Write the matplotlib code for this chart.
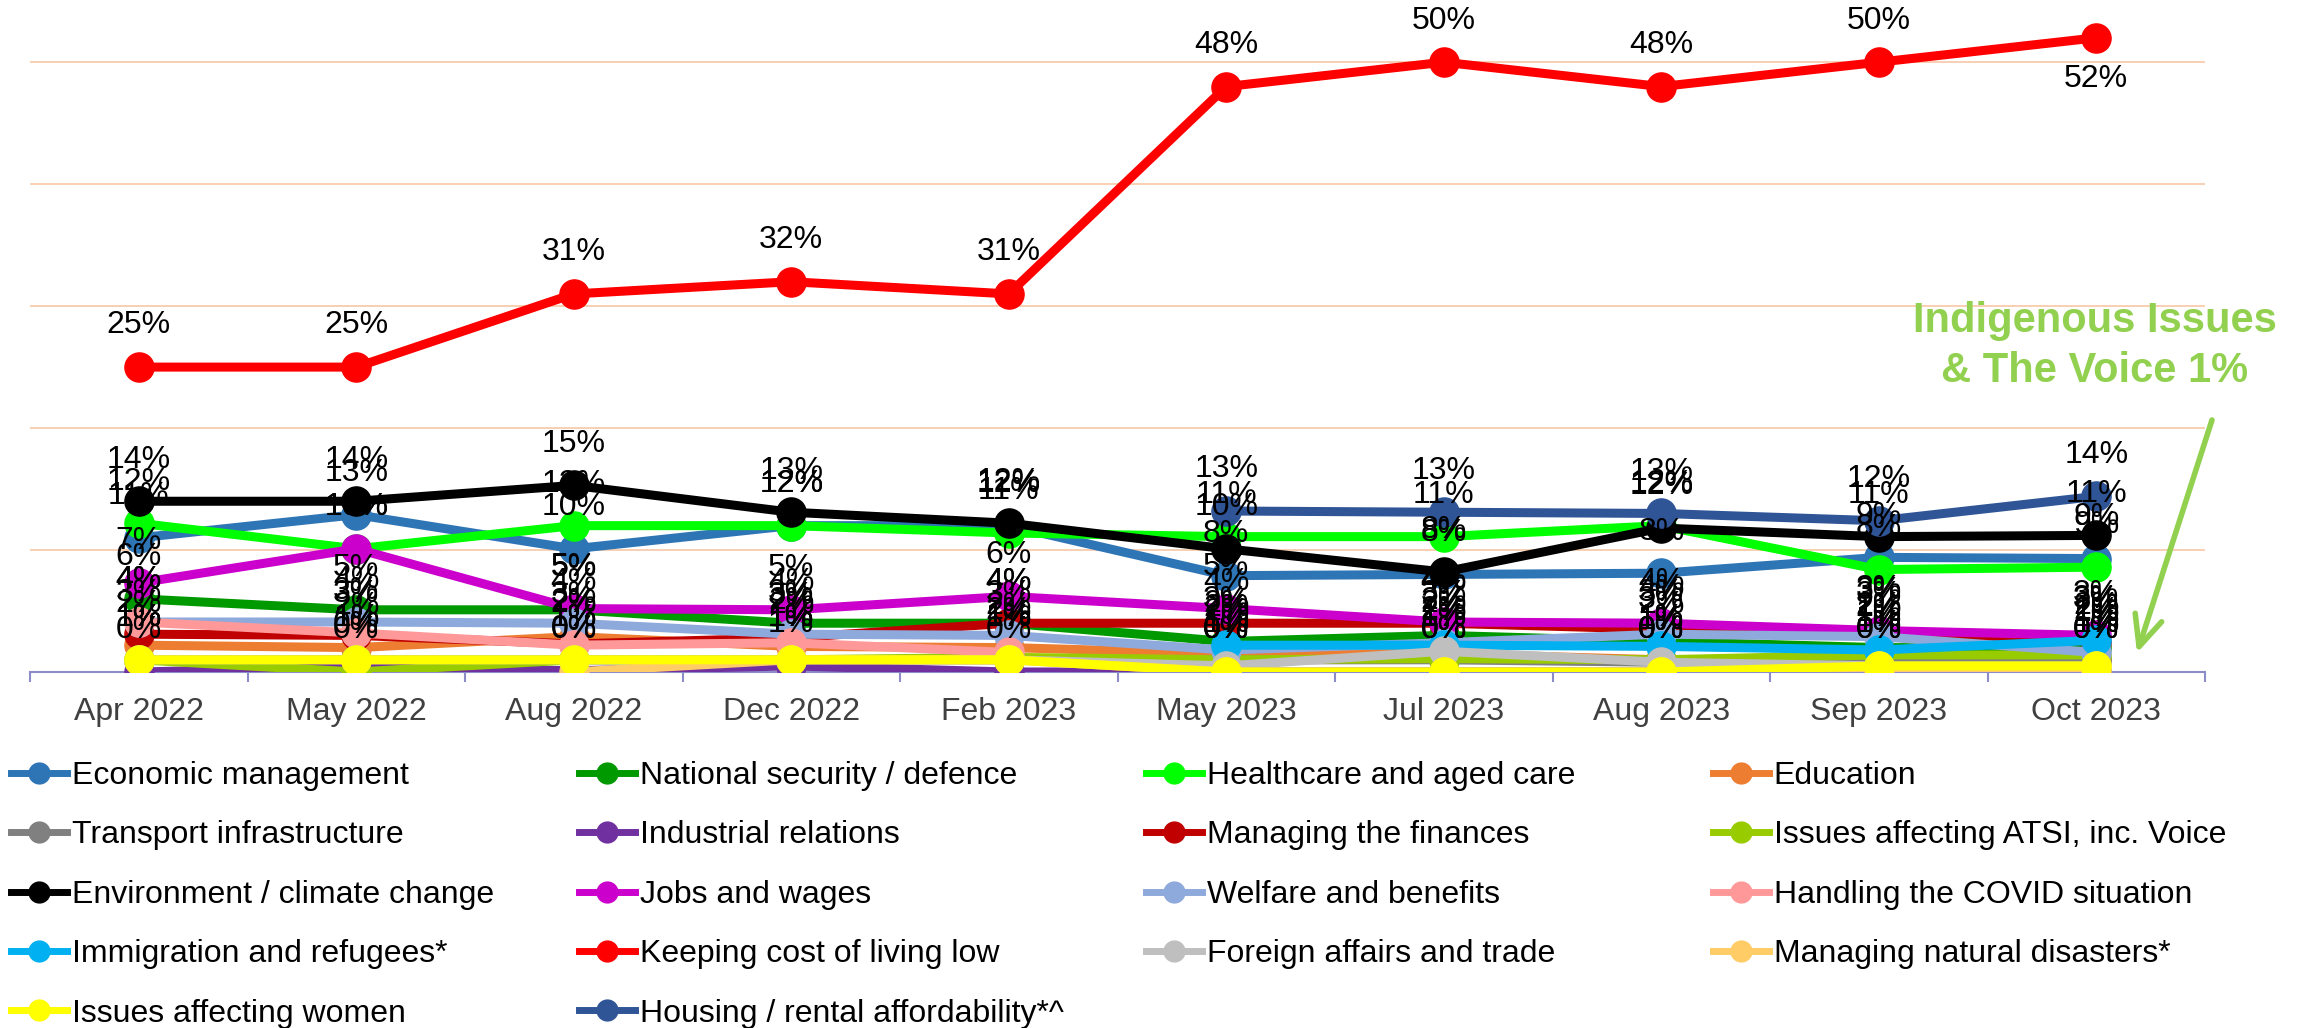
import numpy as np
import matplotlib
matplotlib.use('Agg')
import matplotlib.pyplot as plt
from matplotlib.lines import Line2D

plt.rcParams['font.family'] = ['Liberation Sans', 'DejaVu Sans']

nan = np.nan
dates = ['Apr 2022', 'May 2022', 'Aug 2022', 'Dec 2022', 'Feb 2023',
         'May 2023', 'Jul 2023', 'Aug 2023', 'Sep 2023', 'Oct 2023']

economic = [11, 12.9, 10.1, 12, 12, 7.9, 8, 8.1, 9.4, 9.3]
natsec = [6, 5.1, 5.1, 4, 4, 2.5, 3, 2.5, 2, 2]
health = [12.2, 10.1, 12, 12, 11.4, 11.1, 11.1, 12, 8.4, 8.6]
education = [2.2, 2, 2.9, 2.1, 2, 1.5, 1.5, 1, 1, 1]
transport = [1, 1, 1, 1, 1, 1, 1, 0.8, 1, 1]
industrial = [0, 0.4, 0.1, 0.5, 0, 0, 0, 0, 0, 0]
finances = [3.1, 3, 2.3, 2.8, 4, 4, 4, 3.5, 3.2, 2.5]
atsi = [1, 0, 1, 1, 1.2, 1, 1.1, 1, 1.4, 1.4]
environment = [14, 14, 15.3, 13.1, 12.2, 10.1, 8.2, 11.8, 11.1, 11.2]
jobs = [7.3, 10.1, 5.2, 5.1, 6.2, 5.2, 4.1, 4, 3.4, 3]
welfare = [4.1, 4.1, 4, 3.1, 3, 1.8, 2.4, 3.1, 2.9, 1.6]
covid = [4.1, 3.2, 2.2, 2.4, 1.6, nan, nan, nan, nan, nan]
immigration = [nan, nan, nan, nan, nan, 2.2, 2.2, 2.1, 1.8, 2.6]
cost_of_living = [25, 25, 31, 32, 31, 48, 50, 48, 50, 52]
foreign = [1, 1, 1, 1, 1, 0.5, 1.7, 0.8, 0.5, 0.5]
disasters = [nan, nan, 0, 1, 1, 0, 0, 0, 0, 0]
women = [1, 1, 1, 1, 1, 0, 0, 0, 0.5, 0.5]
housing = [nan, nan, nan, nan, nan, 13.2, 13.1, 13, 12.4, 14.4]

names = ['Economic management', 'National security / defence', 'Healthcare and aged care', 'Education',
         'Transport infrastructure', 'Industrial relations', 'Managing the finances',
         'Issues affecting ATSI, inc. Voice', 'Environment / climate change', 'Jobs and wages',
         'Welfare and benefits', 'Handling the COVID situation', 'Immigration and refugees*',
         'Keeping cost of living low', 'Foreign affairs and trade', 'Managing natural disasters*',
         'Issues affecting women', 'Housing / rental affordability*^']
values = [economic, natsec, health, education, transport, industrial, finances, atsi,
          environment, jobs, welfare, covid, immigration, cost_of_living, foreign, disasters,
          women, housing]
colors = ['#2E75B6', '#009900', '#00FF00', '#ED7D31', '#808080', '#7030A0', '#C00000',
          '#99CC00', '#000000', '#CC00CC', '#8EA9DB', '#FF9999', '#00B0F0', '#FF0000',
          '#BFBFBF', '#FFCC66', '#FFFF00', '#2F5597']

W, H = 2310, 1028
fig = plt.figure(figsize=(W / 100, H / 100), dpi=100)
ax = fig.add_axes([30 / W, 356 / H, 2175 / W, 672 / H])
x = np.arange(len(dates))

for name, vals, col in zip(names, values, colors):
    ax.plot(x, vals, color=col, lw=6.5, marker='o', ms=21, mec=col, mfc=col,
            solid_joinstyle='round', zorder=3, label=name)

for name, vals in zip(names, values):
    for xi, v in zip(x, vals):
        if np.isnan(v):
            continue
        off = 30
        if name == 'Keeping cost of living low' and xi == len(dates) - 1:
            off = -30
        ax.annotate(f'{int(v + 0.5)}%', (xi, v), xytext=(0, off), textcoords='offset points',
                    ha='center', va='center', fontsize=23, color='black', zorder=6)

ax.set_xlim(-0.5, len(dates) - 0.5)
ax.set_ylim(0, 55.1)
ax.set_yticks([10, 20, 30, 40, 50])
ax.yaxis.grid(True, color='#F8CBAD', lw=1.3)
ax.set_axisbelow(True)
ax.tick_params(axis='y', length=0, labelleft=False)
for s in ['top', 'left', 'right']:
    ax.spines[s].set_visible(False)
axis_col = '#8C8CC8'
ax.spines['bottom'].set_color(axis_col)
ax.spines['bottom'].set_linewidth(1.5)
ax.set_xticks(x)
ax.set_xticklabels(dates, fontsize=23, color='#404040')
ax.set_xticks(np.arange(-0.5, len(dates), 1.0), minor=True)
ax.tick_params(axis='x', which='major', length=0, pad=18)
ax.tick_params(axis='x', which='minor', length=7.5, width=1.5, color=axis_col)

# legend in four columns
order = [[0, 4, 8, 12, 16], [1, 5, 9, 13, 17], [2, 6, 10, 14], [3, 7, 11, 15]]
col_x = [11, 579, 1146, 1713]
for cx, idxs in zip(col_x, order):
    hs = [Line2D([], [], color=colors[i], lw=5, marker='o', ms=15) for i in idxs]
    fig.legend(hs, [names[i] for i in idxs], loc='upper left',
               bbox_to_anchor=(cx / W, 1 - 761 / H), bbox_transform=fig.transFigure,
               frameon=False, fontsize=23, handlelength=1.75, handletextpad=0.15,
               borderpad=0, borderaxespad=0, labelspacing=0.92)

# annotation
fig.text(2095 / W, 1 - 346 / H, 'Indigenous Issues\n& The Voice 1%', ha='center', va='center',
         fontsize=30, fontweight='bold', color='#92D050', linespacing=1.3)
ax.annotate('', xy=(2137, H - 653), xycoords='figure pixels',
            xytext=(2212, H - 420), textcoords='figure pixels',
            arrowprops=dict(arrowstyle='->,head_length=22,head_width=10', mutation_scale=1,
                            lw=4, color='#92D050', shrinkA=0, shrinkB=0),
            annotation_clip=False)

fig.savefig('out.png', dpi=100)
